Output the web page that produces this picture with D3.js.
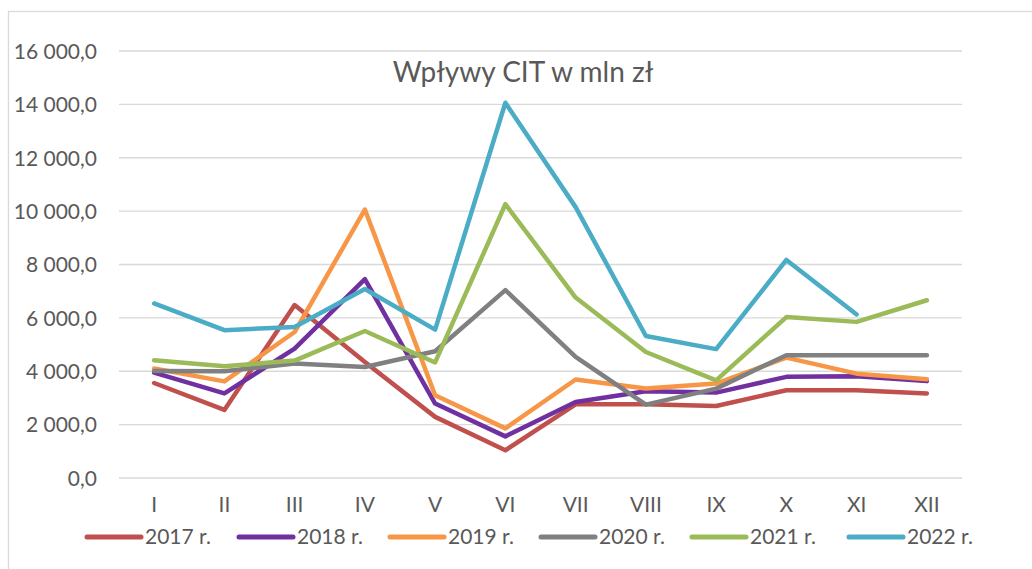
<!DOCTYPE html>
<html><head><meta charset="utf-8">
<script src="https://cdn.jsdelivr.net/npm/d3@7"></script>
<style>body{margin:0;background:#fff}svg{display:block;font-family:Lato,"Liberation Sans",Arial,sans-serif}</style>
</head><body><svg id="c" width="1032" height="569"></svg>
<script>
const months = ["I","II","III","IV","V","VI","VII","VIII","IX","X","XI","XII"];
const yTicks = [0,2000,4000,6000,8000,10000,12000,14000,16000];
const seriesNames = ["2017 r.","2018 r.","2019 r.","2020 r.","2021 r.","2022 r."];
const seriesColors = ["#C0504D","#7030A0","#F79646","#808080","#9BBB59","#4BACC6"];
const v2017 = [3560,2550,6480,4350,2290,1040,2760,2760,2700,3290,3290,3170];
const v2018 = [3950,3170,4850,7450,2790,1560,2850,3250,3200,3790,3810,3630];
const v2019 = [4100,3620,5470,10060,3100,1860,3690,3350,3540,4510,3910,3700];
const v2020 = [4010,4000,4290,4160,4750,7040,4540,2750,3350,4600,4600,4600];
const v2021 = [4410,4190,4400,5510,4330,10260,6760,4720,3660,6030,5850,6660];
const v2022 = [6540,5540,5660,7080,5560,14060,10150,5320,4830,8170,6130,null];
const allSeries = [v2017,v2018,v2019,v2020,v2021,v2022];

(function(){
const svg = d3.select("#c");
const pL = 119, pR = 962, pT = 51, pB = 478;
const x = d3.scaleBand().domain(months).range([pL,pR]);
const y = d3.scaleLinear().domain([0,16000]).range([pB,pT]);
const fmt = v => d3.format(",.1f")(v).replace(/,/g," ").replace(".",",");

svg.append("rect").attr("x",8.5).attr("y",11.5).attr("width",1040).attr("height",600)
  .attr("fill","none").attr("stroke","#d9d9d9").attr("stroke-width",1.3);

svg.append("g").selectAll("line").data(yTicks).join("line")
  .attr("x1",pL).attr("x2",pR).attr("y1",d=>y(d)).attr("y2",d=>y(d))
  .attr("stroke","#d9d9d9").attr("stroke-width",1.3);

const ya = svg.append("g").attr("transform",`translate(97,0)`)
  .call(d3.axisLeft(y).tickValues(yTicks).tickFormat(fmt).tickSize(0).tickPadding(0));
ya.select(".domain").remove();
ya.selectAll("text").attr("fill","#595959").style("font-size","21px").style("font-family","Lato").attr("dy","0.35em");

const xa = svg.append("g").attr("transform",`translate(0,497)`)
  .call(d3.axisBottom(x).tickSize(0).tickPadding(0));
xa.select(".domain").remove();
xa.selectAll("text").attr("fill","#595959").style("font-size","21px").style("font-family","Lato").attr("dy","0.71em");

svg.append("text").attr("x",523).attr("y",82).attr("text-anchor","middle")
  .attr("fill","#595959").style("font-size","28px").text("Wpływy CIT w mln zł");

const line = d3.line().defined(d=>d!=null).x((d,i)=>x(months[i])+x.bandwidth()/2).y(d=>y(d));
svg.append("g").selectAll("path").data(allSeries).join("path")
  .attr("d",line).attr("fill","none").attr("stroke",(d,i)=>seriesColors[i])
  .attr("stroke-width",4.5).attr("stroke-linejoin","round").attr("stroke-linecap","round");

const legX = [87,239,390,541,692,849];
const lg = svg.append("g").selectAll("g").data(seriesNames).join("g")
  .attr("transform",(d,i)=>`translate(${legX[i]},537)`);
lg.append("line").attr("x1",0).attr("x2",54).attr("y1",0).attr("y2",0)
  .attr("stroke",(d,i)=>seriesColors[i]).attr("stroke-width",5).attr("stroke-linecap","round");
lg.append("text").attr("x",58).attr("y",0).attr("dy","0.35em").attr("fill","#595959")
  .style("font-size","21px").text(d=>d);
})();
</script></body></html>
